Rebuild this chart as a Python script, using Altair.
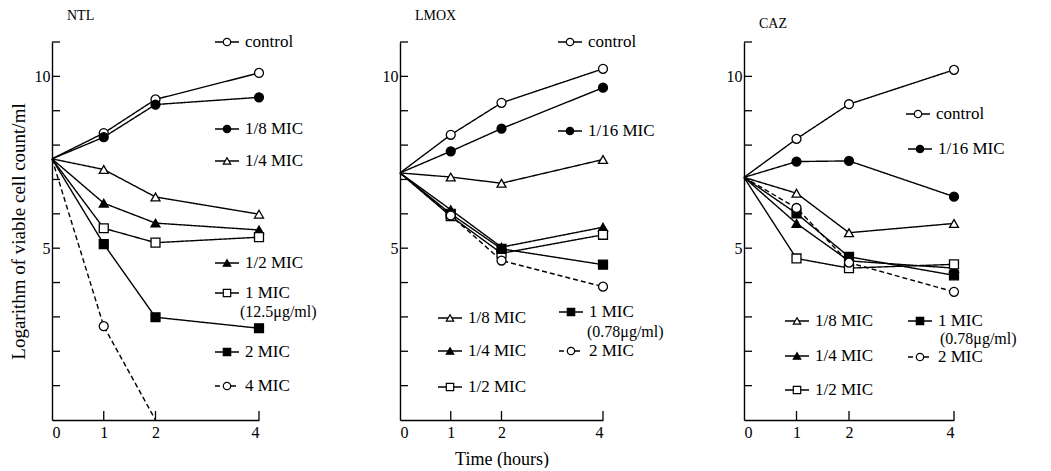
import altair as alt
import pandas as pd

TIMES = [0, 1, 2, 4]

# ---- NTL ----
NTL_SERIES = ["control", "1/8 MIC", "1/4 MIC", "1/2 MIC", "1 MIC", "2 MIC", "4 MIC"]
NTL_VALUES = [
    [7.6, 8.35, 9.33, 10.10],
    [7.6, 8.23, 9.18, 9.39],
    [7.6, 7.29, 6.49, 5.99],
    [7.6, 6.31, 5.73, 5.53],
    [7.6, 5.58, 5.16, 5.32],
    [7.6, 5.12, 2.99, 2.67],
    [7.6, 2.73, 0.0, None],
]
NTL_STYLE = ["oc", "fc", "ot", "ft", "os", "fs", "ocd"]

# ---- LMOX ----
LMOX_SERIES = ["control", "1/16 MIC", "1/8 MIC", "1/4 MIC", "1/2 MIC", "1 MIC", "2 MIC"]
LMOX_VALUES = [
    [7.19, 8.30, 9.23, 10.22],
    [7.19, 7.82, 8.48, 9.67],
    [7.19, 7.07, 6.89, 7.58],
    [7.19, 6.12, 5.03, 5.61],
    [7.19, 5.93, 4.85, 5.39],
    [7.19, 6.00, 4.98, 4.52],
    [7.19, 5.95, 4.64, 3.88],
]
LMOX_STYLE = ["oc", "fc", "ot", "ft", "os", "fs", "ocd"]

# ---- CAZ ----
CAZ_SERIES = ["control", "1/16 MIC", "1/8 MIC", "1/4 MIC", "1/2 MIC", "1 MIC", "2 MIC"]
CAZ_VALUES = [
    [7.06, 8.18, 9.19, 10.19],
    [7.06, 7.52, 7.54, 6.50],
    [7.06, 6.60, 5.45, 5.72],
    [7.06, 5.72, 4.63, 4.42],
    [7.06, 4.70, 4.42, 4.53],
    [7.06, 6.01, 4.75, 4.21],
    [7.06, 6.17, 4.58, 3.73],
]
CAZ_STYLE = ["oc", "fc", "ot", "ft", "os", "fs", "ocd"]

# legend layout (pixel positions inside each plot area): label, marker x, y
NTL_LEG = [("control", 175, 0), ("1/8 MIC", 175, 87), ("1/4 MIC", 175, 119),
           ("1/2 MIC", 175, 221), ("1 MIC", 175, 251), ("2 MIC", 175, 310),
           ("4 MIC", 175, 344)]
NTL_NOTE = [("(12.5\u03bcg/ml)", 188, 270)]
LMOX_LEG = [("control", 170, 0), ("1/16 MIC", 170, 89), ("1/8 MIC", 50, 276),
            ("1/4 MIC", 50, 309), ("1/2 MIC", 50, 345), ("1 MIC", 171, 270),
            ("2 MIC", 171, 309)]
LMOX_NOTE = [("(0.78\u03bcg/ml)", 187, 290)]
CAZ_LEG = [("control", 174, 72), ("1/16 MIC", 176, 107), ("1/8 MIC", 53, 279),
           ("1/4 MIC", 53, 314), ("1/2 MIC", 53, 348), ("1 MIC", 176, 279),
           ("2 MIC", 176, 315)]
CAZ_NOTE = [("(0.78\u03bcg/ml)", 196, 297)]

STYLE_MAP = {
    "oc": ("circle", "open", "solid"),
    "fc": ("circle", "filled", "solid"),
    "ot": ("triangle", "open", "solid"),
    "ft": ("triangle", "filled", "solid"),
    "os": ("square", "open", "solid"),
    "fs": ("square", "filled", "solid"),
    "ocd": ("circle", "open", "dashed"),
}

FONT = "Liberation Serif"
H = 378
Y_MAX = 11


def build(series, values, styles):
    rows = []
    for s, vals, st in zip(series, values, styles):
        shp, fil, dsh = STYLE_MAP[st]
        for t, v in zip(TIMES, vals):
            if v is None:
                continue
            rows.append(dict(series=s, time=t, value=v, shape=shp, fill=fil,
                             dash=dsh, mark=(t > 0 and v > 0)))
    return pd.DataFrame(rows)


def build_legend(series, styles, leg):
    smap = dict(zip(series, styles))
    rows = []
    for lab, lx, ly in leg:
        shp, fil, dsh = STYLE_MAP[smap[lab]]
        rows.append(dict(label=lab, lx=lx, x1=lx - 12, x2=lx + 12, tx=lx + 18,
                         ly=ly, shape=shp, fill=fil, dash=dsh))
    return pd.DataFrame(rows)


shape_scale = alt.Scale(domain=["circle", "triangle", "square"],
                        range=["circle", "triangle-up", "square"])
fill_scale = alt.Scale(domain=["open", "filled"], range=["white", "black"])
dash_scale = alt.Scale(domain=["solid", "dashed"], range=[[1, 0], [5, 3]])


def panel(name, series, values, styles, leg, notes, width, ytitle, xtitle):
    d = build(series, values, styles)
    xs = alt.Scale(domain=[0, 4], nice=False, zero=False)
    ys = alt.Scale(domain=[0, Y_MAX], nice=False)
    xaxis = alt.Axis(values=[0, 1, 2, 4], format="d", ticks=False, grid=False,
                     labelPadding=4, labelFontSize=16, titleFontSize=18,
                     titlePadding=10, titleFontWeight="normal")
    yaxis = alt.Axis(values=[5, 10], format="d", ticks=False, grid=False,
                     labelPadding=2, labelFontSize=16, titleFontSize=19,
                     titlePadding=6, titleFontWeight="normal")
    base = alt.Chart(d)
    lines = base.mark_line(color="black", strokeWidth=1.4).encode(
        x=alt.X("time:Q", scale=xs, axis=xaxis, title=xtitle),
        y=alt.Y("value:Q", scale=ys, axis=yaxis, title=ytitle),
        detail="series:N",
        strokeDash=alt.StrokeDash("dash:N", scale=dash_scale, legend=None),
    )
    pts = base.transform_filter("datum.mark").mark_point(
        filled=True, stroke="black", strokeWidth=1.3, size=80, opacity=1
    ).encode(
        x="time:Q",
        y="value:Q",
        shape=alt.Shape("shape:N", scale=shape_scale, legend=None),
        fill=alt.Fill("fill:N", scale=fill_scale, legend=None),
    )
    yt = alt.Chart(pd.DataFrame({"v": list(range(1, Y_MAX + 1))})).mark_rule(
        color="black", strokeWidth=1.3).encode(
        y="v:Q", x=alt.value(0), x2=alt.value(8))
    xt = alt.Chart(pd.DataFrame({"t": [1, 2, 4]})).mark_rule(
        color="black", strokeWidth=1.3).encode(
        x="t:Q", y=alt.value(H), y2=alt.value(H - 9))

    lg = build_legend(series, styles, leg)
    lbase = alt.Chart(lg)
    lrule = lbase.mark_rule(color="black", strokeWidth=1.3).encode(
        x=alt.X("x1:Q", scale=None, axis=None),
        x2="x2:Q",
        y=alt.Y("ly:Q", scale=None, axis=None),
        strokeDash=alt.StrokeDash("dash:N", scale=dash_scale, legend=None),
    )
    lpts = lbase.mark_point(filled=True, stroke="black", strokeWidth=1.2,
                            size=55, opacity=1).encode(
        x=alt.X("lx:Q", scale=None, axis=None),
        y=alt.Y("ly:Q", scale=None, axis=None),
        shape=alt.Shape("shape:N", scale=shape_scale, legend=None),
        fill=alt.Fill("fill:N", scale=fill_scale, legend=None),
    )
    ltxt = lbase.mark_text(align="left", baseline="middle", font=FONT,
                           fontSize=17, color="black").encode(
        x=alt.X("tx:Q", scale=None, axis=None),
        y=alt.Y("ly:Q", scale=None, axis=None),
        text="label:N",
    )
    nd = pd.DataFrame(notes, columns=["label", "nx", "ny"])
    ntxt = alt.Chart(nd).mark_text(align="left", baseline="middle", font=FONT,
                                   fontSize=16, color="black").encode(
        x=alt.X("nx:Q", scale=None, axis=None),
        y=alt.Y("ny:Q", scale=None, axis=None),
        text="label:N",
    )
    return alt.layer(lines, yt, xt, pts, lrule, lpts, ltxt, ntxt).properties(
        width=width, height=H,
        title=alt.TitleParams(text=name, anchor="start", frame="group", dx=15,
                              offset=10, fontSize=14, font=FONT,
                              fontWeight="normal", color="black"),
    )


p1 = panel("NTL", NTL_SERIES, NTL_VALUES, NTL_STYLE, NTL_LEG, NTL_NOTE, 207,
           "Logarithm of viable cell count/ml", None)
p2 = panel("LMOX", LMOX_SERIES, LMOX_VALUES, LMOX_STYLE, LMOX_LEG, LMOX_NOTE, 203,
           None, "Time (hours)")
p3 = panel("CAZ", CAZ_SERIES, CAZ_VALUES, CAZ_STYLE, CAZ_LEG, CAZ_NOTE, 210,
           None, None)

chart = alt.hconcat(p1, p2, p3, spacing=141, bounds="flush").properties(
    padding={"left": 1, "top": 1, "right": 5, "bottom": 0},
    background="white",
).configure_view(stroke=None).configure_axis(
    domainColor="black", domainWidth=1.4, labelColor="black", titleColor="black",
    labelFont=FONT, titleFont=FONT,
)

chart.save("out.html", embed_options={"renderer": "svg", "actions": False})
